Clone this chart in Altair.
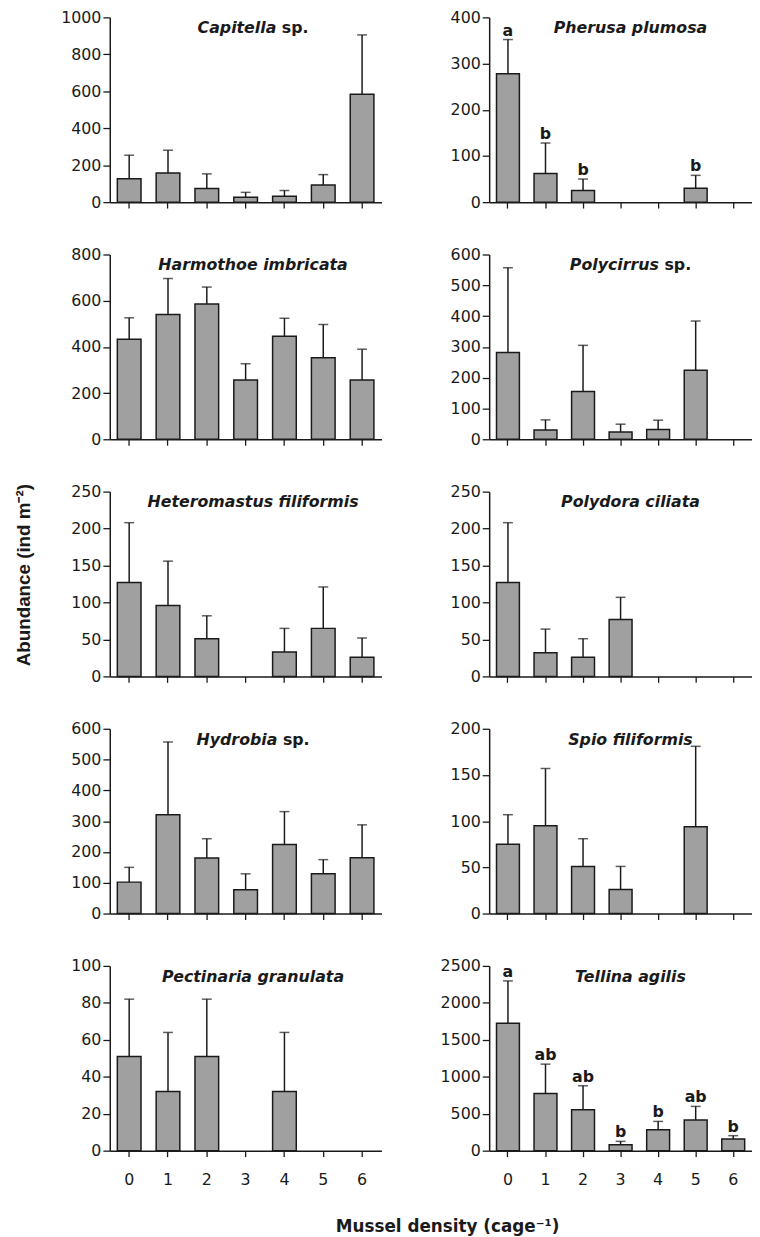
import altair as alt
import pandas as pd

densities = ["0", "1", "2", "3", "4", "5", "6"]

species = [
    "Capitella sp.", "Pherusa plumosa",
    "Harmothoe imbricata", "Polycirrus sp.",
    "Heteromastus filiformis", "Polydora ciliata",
    "Hydrobia sp.", "Spio filiformis",
    "Pectinaria granulata", "Tellina agilis",
]

capitella_mean = [126, 158, 74, 26, 32, 93, 584]
capitella_upper = [254, 281, 153, 53, 63, 149, 905]
pherusa_mean = [278, 62, 25, 0, 0, 30, 0]
pherusa_upper = [352, 128, 50, 0, 0, 58, 0]
pherusa_letters = ["a", "b", "b", "", "", "b", ""]
harmothoe_mean = [433, 540, 586, 257, 446, 353, 257]
harmothoe_upper = [526, 696, 659, 327, 524, 497, 390]
polycirrus_mean = [282, 30, 155, 24, 32, 224, 0]
polycirrus_upper = [557, 63, 305, 49, 62, 384, 0]
heteromastus_mean = [127, 96, 51, 0, 33, 65, 26]
heteromastus_upper = [208, 156, 82, 0, 65, 121, 52]
polydora_mean = [127, 32, 26, 77, 0, 0, 0]
polydora_upper = [208, 64, 51, 107, 0, 0, 0]
hydrobia_mean = [102, 321, 180, 77, 224, 129, 181]
hydrobia_upper = [150, 557, 243, 129, 331, 175, 288]
spio_mean = [75, 95, 51, 26, 0, 94, 0]
spio_upper = [107, 157, 81, 51, 0, 181, 0]
pectinaria_mean = [51, 32, 51, 0, 32, 0, 0]
pectinaria_upper = [82, 64, 82, 0, 64, 0, 0]
tellina_mean = [1725, 775, 554, 81, 284, 414, 158]
tellina_upper = [2297, 1171, 878, 126, 396, 599, 203]
tellina_letters = ["a", "ab", "ab", "b", "b", "ab", "b"]

no_letters = ["", "", "", "", "", "", ""]

means = [capitella_mean, pherusa_mean, harmothoe_mean, polycirrus_mean,
         heteromastus_mean, polydora_mean, hydrobia_mean, spio_mean,
         pectinaria_mean, tellina_mean]
uppers = [capitella_upper, pherusa_upper, harmothoe_upper, polycirrus_upper,
          heteromastus_upper, polydora_upper, hydrobia_upper, spio_upper,
          pectinaria_upper, tellina_upper]
letters = [no_letters, pherusa_letters, no_letters, no_letters, no_letters,
           no_letters, no_letters, no_letters, no_letters, tellina_letters]

y_max = [1000, 400, 800, 600, 250, 250, 600, 200, 100, 2500]
y_step = [200, 100, 200, 100, 50, 50, 100, 50, 20, 500]

# approximate DejaVu Sans Bold advance widths (em)
BOLD_W = {
    "a": .675, "b": .716, "c": .593, "d": .716, "e": .678, "f": .435, "g": .716,
    "h": .712, "i": .343, "l": .343, "m": 1.042, "n": .712, "o": .687, "p": .716,
    "r": .493, "s": .595, "t": .478, "u": .712, "y": .652, "C": .734, "H": .837,
    "P": .733, "S": .720, "T": .682, " ": .348, ".": .380,
}
TFONT = 16


def text_w(s):
    return sum(BOLD_W.get(c, 0.65) for c in s) * TFONT


FONT = "DejaVu Sans"
INK = "#1a1a1a"
BAR_FILL = "#a0a0a0"
H = 187


def panel(i):
    name = species[i]
    col = i % 2
    row = i // 2
    width = 275 if col == 0 else 266
    df = pd.DataFrame({
        "d": densities,
        "mean": means[i],
        "upper": uppers[i],
        "letter": letters[i],
    })
    bottom = row == 4
    xenc = alt.X(
        "d:O",
        scale=alt.Scale(domain=densities, paddingInner=0.39, paddingOuter=0.195),
        axis=alt.Axis(title=None, labels=bottom, labelAngle=0, ticks=True),
    )
    yax = dict(values=list(range(0, y_max[i] + 1, y_step[i])), grid=False,
               format="d")
    if i == 4:
        yax.update(title="Abundance (ind m\u207b\u00b2)", titleAngle=270,
                   titleBaseline="bottom", titleAlign="center",
                   titleX=-77, titleY=84)
    else:
        yax.update(title=None)
    yscale = alt.Scale(domain=[0, y_max[i]], nice=False)

    def yenc(field):
        return alt.Y(field, type="quantitative", scale=yscale, axis=alt.Axis(**yax))

    base = alt.Chart(df)
    bars = base.transform_filter("datum.mean > 0").mark_bar(
        fill=BAR_FILL, stroke=INK, strokeWidth=1.5
    ).encode(x=xenc, y=yenc("mean"))
    err = base.transform_filter("datum.upper > 0").mark_rule(
        color=INK, strokeWidth=1.5
    ).encode(x=xenc, y=yenc("mean"), y2="upper:Q")
    cap = base.transform_filter("datum.upper > 0").mark_tick(
        color=INK, size=10, thickness=1.5
    ).encode(x=xenc, y=yenc("upper"))
    lab = base.transform_filter("datum.letter != ''").mark_text(
        font=FONT, fontSize=16, fontWeight="bold", color=INK,
        baseline="alphabetic", dy=-4
    ).encode(x=xenc, y=yenc("upper"), text="letter:N")

    cx = 145 if col == 0 else 143
    layers = [bars, err, cap, lab]
    if name.endswith(" sp."):
        genus, rest = name[:-4], "sp."
        xs = cx - (text_w(genus) + text_w(" sp.")) / 2 + text_w(genus)
        t1 = alt.Chart(pd.DataFrame({"t": [genus]})).mark_text(
            font=FONT, fontSize=TFONT, fontWeight="bold", fontStyle="italic",
            color=INK, align="right", baseline="middle"
        ).encode(x=alt.value(xs), y=alt.value(11), text="t:N")
        t2 = alt.Chart(pd.DataFrame({"t": [rest]})).mark_text(
            font=FONT, fontSize=TFONT, fontWeight="bold",
            color=INK, align="left", baseline="middle", dx=text_w(" ")
        ).encode(x=alt.value(xs), y=alt.value(11), text="t:N")
        layers += [t1, t2]
    else:
        t1 = alt.Chart(pd.DataFrame({"t": [name]})).mark_text(
            font=FONT, fontSize=TFONT, fontWeight="bold", fontStyle="italic",
            color=INK, align="center", baseline="middle"
        ).encode(x=alt.value(cx), y=alt.value(11), text="t:N")
        layers += [t1]
    return alt.layer(*layers).properties(width=width, height=H)


chart = alt.concat(
    *[panel(i) for i in range(10)],
    columns=2,
    bounds="flush",
    spacing=alt.RowColnumber(row=53, column=109),
).properties(
    padding={"left": 7, "top": -6, "right": 0, "bottom": 5},
    title=alt.TitleParams(
        "Mussel density (cage\u207b\u00b9)", orient="bottom", anchor="middle",
        font=FONT, fontSize=17, fontWeight="bold", color=INK, offset=32, dx=65,
    ),
).configure_view(stroke=None).configure_axis(
    grid=False, domainColor=INK, domainWidth=1.5, tickColor=INK, tickWidth=1.3,
    labelFont=FONT, labelFontSize=16, labelColor=INK,
    titleFont="Liberation Sans", titleFontSize=19, titleFontWeight="bold",
    titleColor=INK,
).configure_axisX(tickSize=6, labelPadding=15).configure_axisY(
    tickSize=7, labelPadding=2
)

chart.save("out.html", embed_options={"renderer": "svg", "actions": False})
